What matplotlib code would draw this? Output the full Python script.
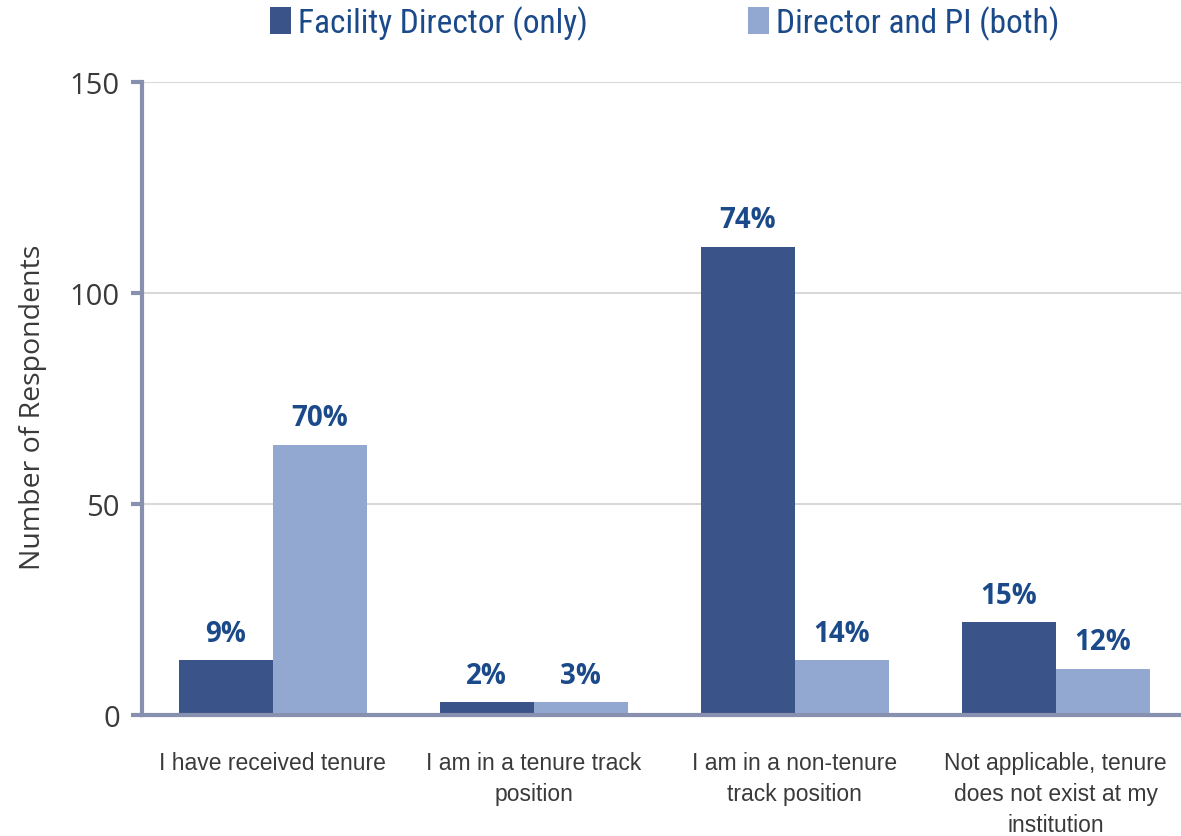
import numpy as np
import matplotlib.pyplot as plt
from matplotlib import font_manager

# Data
categories = ['I have received tenure', 'I am in a tenure track\nposition',
              'I am in a non-tenure\ntrack position',
              'Not applicable, tenure\ndoes not exist at my\ninstitution']
director_only = [13, 3, 111, 22]
director_pi = [64, 3, 13, 11]
director_only_pct = ['9%', '2%', '74%', '15%']
director_pi_pct = ['70%', '3%', '14%', '12%']
series_names = ['Facility Director (only)', 'Director and PI (both)']

dark = '#3A5389'
light = '#93A8D1'
axis_col = '#8790AE'
label_col = '#1B4A8A'

names = {f.name for f in font_manager.fontManager.ttflist}
legend_font, legend_size = 'Roboto', 22
for cand, size in [('Liberation Sans Narrow', 25), ('Roboto Condensed', 24)]:
    if cand in names:
        legend_font, legend_size = cand, size
        break

fig = plt.figure(figsize=(11.81, 8.37), dpi=100)
ax = fig.add_axes([142 / 1181, 121 / 837, 1 - 142 / 1181, 633 / 837])

x = np.arange(len(categories))
w = 0.36
b1 = ax.bar(x - w / 2, director_only, w, color=dark, label=series_names[0], zorder=3)
b2 = ax.bar(x + w / 2, director_pi, w, color=light, label=series_names[1], zorder=3)

# Percent labels above bars
for bars, pcts in [(b1, director_only_pct), (b2, director_pi_pct)]:
    for rect, p in zip(bars, pcts):
        ax.annotate(p, (rect.get_x() + rect.get_width() / 2, rect.get_height()),
                    textcoords='offset points', xytext=(0, 9), ha='center', va='bottom',
                    fontsize=20, fontweight='bold', color=label_col, family='Open Sans')

ax.set_xlim(-0.5, 3.48)
ax.set_ylim(0, 150)
ax.set_yticks([0, 50, 100, 150])
ax.set_xticks(x)
ax.set_xticklabels(categories, fontsize=16.5, color='#3a3a3a', family='Liberation Sans',
                   linespacing=1.45)
ax.tick_params(axis='x', length=0, pad=26)
ax.tick_params(axis='y', length=8, width=3, color=axis_col, direction='out', pad=8,
               labelsize=21, labelcolor='#3a3a3a')
for lab in ax.get_yticklabels():
    lab.set_family('Open Sans')

ax.set_ylabel('Number of Respondents', fontsize=20.5, color='#3a3a3a', family='Open Sans')
ax.yaxis.set_label_coords(-0.091, 0.487)

# Spines
for s in ['top', 'right']:
    ax.spines[s].set_visible(False)
for s in ['left', 'bottom']:
    ax.spines[s].set_color(axis_col)
    ax.spines[s].set_linewidth(3)
    ax.spines[s].set_zorder(4)

# Grid
ax.yaxis.grid(True, color='#D9D9D9', linewidth=1.5, zorder=0)
ax.set_axisbelow(True)

# Legend
fig.legend(handles=[b1, b2], loc='center', bbox_to_anchor=(0.5627, 0.972), ncol=2,
           frameon=False, handlelength=0.65, handleheight=0.9, handletextpad=0.2,
           columnspacing=4.8, prop={'family': legend_font, 'size': legend_size},
           labelcolor=label_col)

fig.savefig('out.png', dpi=100)
